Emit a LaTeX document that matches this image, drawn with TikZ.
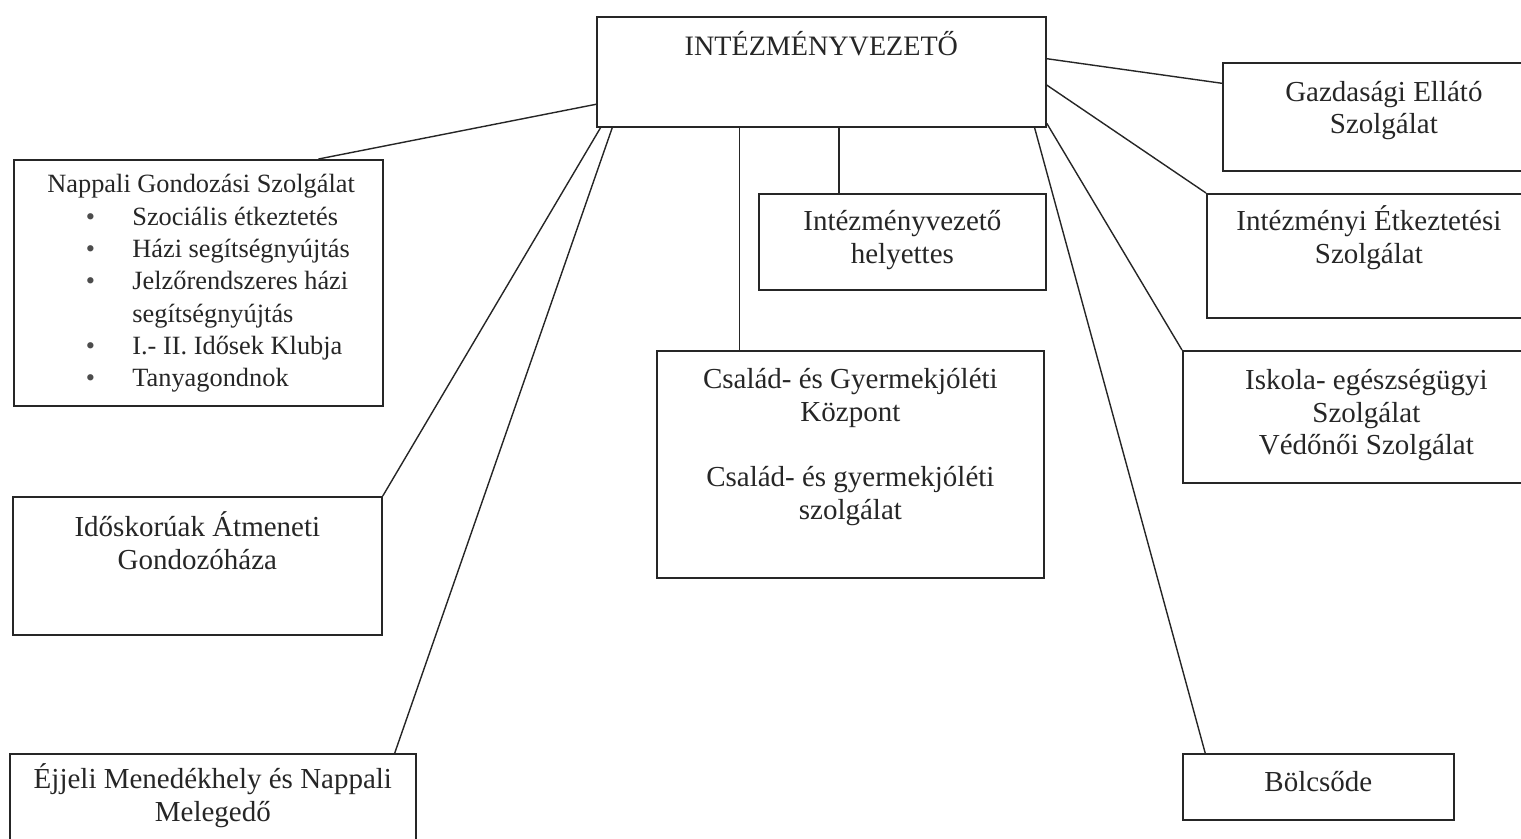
\documentclass[tikz,border=0pt]{standalone}
\usepackage{fontspec}
\setmainfont{Liberation Serif}
\usepackage{tikz}
\usetikzlibrary{calc}
\newcommand{\betu}{\fontsize{16.5pt}{18.4pt}\selectfont}
\newcommand{\lista}{\fontsize{15pt}{18.4pt}\selectfont}
\newcommand{\cim}{\fontsize{16pt}{19pt}\selectfont}
\newcommand{\kozep}[2]{\parbox[t]{#1}{\centering #2}}
\newcommand{\pont}{\hspace*{1.44cm}\makebox[0.93cm][l]{\textcolor{black!70}{\textbullet}}}

\begin{document}
\begin{tikzpicture}[
    doboz/.style={rectangle, draw=black!85, line width=1pt, inner sep=0pt, anchor=north west, font=\betu, text=black!85},
    vonal/.style={draw=black!85, line width=0.8pt}]

    \useasboundingbox (0,0) rectangle (30.42,-16.76);
    \clip (0,0) rectangle (30.42,-16.76);

    % Intezmenyvezeto
    \node[doboz, minimum width=8.98cm, text height=0.78cm, text depth=1.42cm, font=\cim] (vez) at (11.92,-0.32) {INTÉZMÉNYVEZETŐ};

    % bal oldal
    \node[doboz, text height=0.66cm, text depth=4.26cm, font=\lista] (nappali) at (0.26,-3.18)
        {\parbox[t]{7.38cm}{\raggedright
        \hspace*{0.67cm}Nappali Gondozási Szolgálat\\
        \pont Szociális étkeztetés\\
        \pont Házi segítségnyújtás\\
        \pont Jelzőrendszeres házi\\
        \hspace*{2.37cm}segítségnyújtás\\
        \pont I.- II. Idősek Klubja\\
        \pont Tanyagondnok}};
    \node[doboz, text height=0.8cm, text depth=1.96cm] (idos) at (0.24,-9.92)
        {\kozep{7.38cm}{Időskorúak Átmeneti\\Gondozóháza}};
    \node[doboz, text height=0.7cm, text depth=1.8cm] (ejjeli) at (0.18,-15.06)
        {\kozep{8.12cm}{Éjjeli Menedékhely és Nappali\\Melegedő}};

    % kozep
    \node[doboz, text height=0.74cm, text depth=1.18cm] (helyettes) at (15.16,-3.86)
        {\kozep{5.74cm}{Intézményvezető\\helyettes}};
    \node[doboz, text height=0.76cm, text depth=3.78cm] (csal) at (13.12,-7.0)
        {\kozep{7.74cm}{Család- és Gyermekjóléti\\Központ\\[19pt]Család- és gyermekjóléti\\szolgálat}};

    % jobb oldal
    \node[doboz, text height=0.77cm, text depth=1.39cm] (gazd) at (24.44,-1.24)
        {\kozep{6.44cm}{Gazdasági Ellátó\\Szolgálat}};
    \node[doboz, text height=0.74cm, text depth=1.74cm] (intez) at (24.12,-3.86)
        {\kozep{6.48cm}{Intézményi Étkeztetési\\Szolgálat}};
    \node[doboz, text height=0.78cm, text depth=1.86cm] (iskola) at (23.64,-7.0)
        {\kozep{7.34cm}{Iskola- egészségügyi\\Szolgálat\\Védőnői Szolgálat}};
    \node[doboz, text height=0.76cm, text depth=0.56cm] (bolcs) at (23.64,-15.06)
        {\kozep{5.42cm}{Bölcsőde}};

    % vonalak
    \draw[vonal] ($(vez.north west)!.79!(vez.south west)$) -- ($(nappali.north west)!.824!(nappali.north east)$);
    \draw[vonal] ($(vez.south west)!.01!(vez.south east)$) -- (idos.north east);
    \draw[vonal] ($(vez.south west)!.036!(vez.south east)$) -- ($(ejjeli.north west)!.946!(ejjeli.north east)$);
    \draw[vonal] ($(vez.south west)!.318!(vez.south east)$) coordinate (v1) -- (v1 |- csal.north);
    \draw[vonal] ($(vez.south west)!.539!(vez.south east)$) coordinate (v2) -- (v2 |- helyettes.north);
    \draw[vonal] ($(vez.north east)!.382!(vez.south east)$) -- ($(gazd.north west)!.194!(gazd.south west)$);
    \draw[vonal] ($(vez.north east)!.618!(vez.south east)$) -- (intez.north west);
    \draw[vonal] ($(vez.north east)!.96!(vez.south east)$) -- (iskola.north west);
    \draw[vonal] ($(vez.south west)!.973!(vez.south east)$) -- ($(bolcs.north west)!.085!(bolcs.north east)$);
\end{tikzpicture}
\end{document}
